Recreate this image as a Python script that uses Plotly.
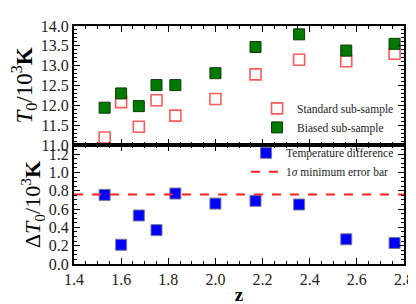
import plotly.graph_objects as go
from plotly.subplots import make_subplots

z = [1.53, 1.60, 1.675, 1.75, 1.83, 2.0, 2.17, 2.355, 2.555, 2.76]
t_standard = [11.19, 12.08, 11.46, 12.13, 11.74, 12.16, 12.78, 13.15, 13.11, 13.30]
t_biased = [11.94, 12.30, 11.98, 12.51, 12.51, 12.81, 13.47, 13.79, 13.38, 13.55]
t_diff = [0.755, 0.21, 0.53, 0.37, 0.77, 0.66, 0.69, 0.65, 0.27, 0.23]
min_err = 0.76
x_range = [1.4, 2.8]

FONT = "Liberation Serif"

fig = make_subplots(rows=2, cols=1, shared_xaxes=True, vertical_spacing=0)

fig.add_trace(go.Scatter(
    x=z, y=t_standard, mode="markers", name="Standard sub-sample",
    marker=dict(symbol="square-open", size=11, color="#ff5a5a", line=dict(width=1.6, color="#ff5a5a")),
    legend="legend"), row=1, col=1)
fig.add_trace(go.Scatter(
    x=z, y=t_biased, mode="markers", name="Biased sub-sample",
    marker=dict(symbol="square", size=11, color="#007a00", line=dict(width=1, color="#0b3a0b")),
    legend="legend"), row=1, col=1)

fig.add_trace(go.Scatter(
    x=z, y=t_diff, mode="markers", name="Temperature difference",
    marker=dict(symbol="square", size=11, color="#0000ff", line=dict(width=1, color="#777799")),
    legend="legend2"), row=2, col=1)
fig.add_trace(go.Scatter(
    x=x_range, y=[min_err, min_err], mode="lines", name="1<i>σ</i> minimum error bar",
    line=dict(color="#ff2020", width=2, dash="dash"),
    legend="legend2"), row=2, col=1)

axis_common = dict(
    showgrid=False, zeroline=False, showline=True, linecolor="black", linewidth=2,
    mirror="allticks", ticks="inside", ticklen=6, tickwidth=1.2, tickcolor="black",
    tickfont=dict(family=FONT, size=16, color="#222"),
)

fig.update_xaxes(range=x_range, dtick=0.2, tickformat=".1f",
                 minor=dict(ticks="inside", dtick=0.05, ticklen=3, tickcolor="black"),
                 **axis_common)
fig.update_xaxes(showticklabels=False, row=1, col=1)
fig.update_xaxes(title=dict(text="<b>z</b>", font=dict(family=FONT, size=19, color="black"), standoff=0),
                 row=2, col=1)

fig.update_yaxes(range=[11.0, 14.0], dtick=0.5, tickformat=".1f",
                 minor=dict(ticks="inside", dtick=0.1, ticklen=3, tickcolor="black"),
                 title=dict(text="<i>T</i><sub>0</sub>/10<sup>3</sup><b>K</b>",
                            font=dict(family=FONT, size=23, color="black"), standoff=2),
                 row=1, col=1, **axis_common)
fig.update_yaxes(range=[0.0, 1.3], dtick=0.2, tickformat=".1f",
                 minor=dict(ticks="inside", dtick=0.05, ticklen=3, tickcolor="black"),
                 title=dict(text="Δ<i>T</i><sub>0</sub>/10<sup>3</sup><b>K</b>",
                            font=dict(family=FONT, size=22, color="black"), standoff=2),
                 row=2, col=1, **axis_common)

fig.update_layout(
    width=416, height=304,
    margin=dict(l=66, r=16, t=10, b=36),
    paper_bgcolor="white", plot_bgcolor="white",
    font=dict(family=FONT, color="#222"),
    legend=dict(x=0.985, y=0.513, xanchor="right", yanchor="bottom",
                font=dict(family=FONT, size=11.5), bgcolor="rgba(0,0,0,0)",
                itemwidth=30, tracegroupgap=0),
    legend2=dict(x=0.985, y=0.528, xanchor="right", yanchor="top",
                 font=dict(family=FONT, size=11.5), bgcolor="rgba(0,0,0,0)",
                 itemwidth=30, tracegroupgap=0),
)

fig.write_html("out.html")
